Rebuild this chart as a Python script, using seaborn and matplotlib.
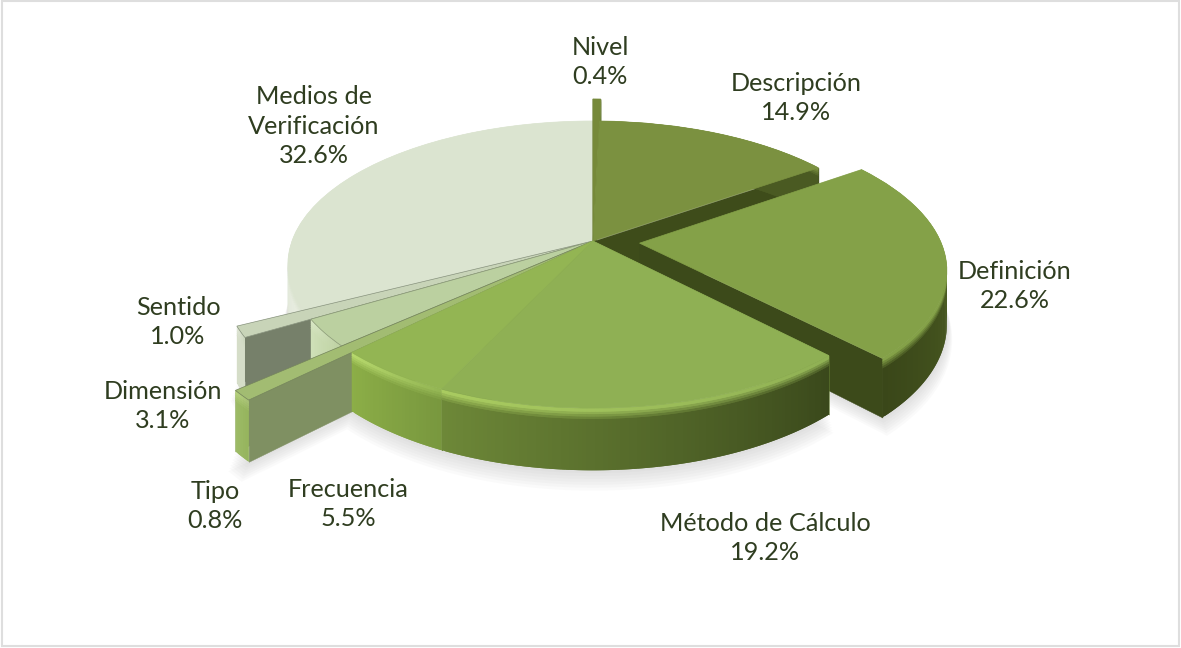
import matplotlib
matplotlib.use('Agg')
import matplotlib.pyplot as plt
import numpy as np
import seaborn as sns
from matplotlib.collections import PolyCollection
from matplotlib.patches import Rectangle
from matplotlib.transforms import Transform

names = ['Nivel', 'Descripción', 'Definición', 'Método de Cálculo', 'Frecuencia',
         'Tipo', 'Dimensión', 'Sentido', 'Medios de\nVerificación']
shares = [0.4, 14.9, 22.6, 19.2, 5.5, 0.8, 3.1, 1.0, 32.6]

# styling, same order as names
explode = [0, 0, 0.155, 0, 0, 0, 0, 0, 0]
radius = [1.22, 1, 1, 1, 1, 1.36, 1, 1.21, 1]
top_colors = ['#76893a', '#7b9140', '#84a148', '#8fb054', '#93b553',
              '#a2bc72', '#bbd0a0', '#c8d4b8', '#dbe4d0']
edge_colors = ['#76893a', '#7b9140', '#84a148', '#8fb054', '#93b553',
               '#75855c', '#8b9a78', '#8a9580', '#dbe4d0']
side_a = ['#6f8535', '#4a5a22', '#3a4719', '#6d8838', '#8cae47',
          '#9dbb66', '#cfe0b8', '#d5ddc8', '#ccd6c0']
side_b = ['#6f8535', '#4a5a22', '#5a6f2a', '#3a481b', '#78973e',
          '#94b35c', '#bed2a2', '#d5ddc8', '#e8ede0']
glow_colors = ['#76893a', '#7b9140', '#84a148', '#a9cb60', '#b6d86c',
               '#b5d07c', '#d8e6c4', '#e0e6d6', '#eef2e8']
face_colors = ['#66793a', '#3e4c1a', '#3c4a1a', '#5f7730', '#7a9740',
               '#7f9062', '#b5c79c', '#76806a', '#c5cfb8']
draw_order = [8, 0, 1, 7, 2, 6, 5, 4, 3]
label_xy = [(600, 62), (796, 98), (1015, 286), (765, 538), (348, 504),
            (215, 506), (163, 406), (178, 322), (314, 126)]

CX, CY, RX, RY, K, DEPTH = 593, 241, 301, 139.7, 0.164, 52


def project(u, v, z=0):
    w = 1 / (1 + K * np.asarray(v))
    return CX + RX * np.asarray(u) * w, CY - RY * np.asarray(v) * w + z * w


class PlaneTransform(Transform):
    input_dims = 2
    output_dims = 2
    is_separable = False
    has_inverse = False

    def transform_non_affine(self, values):
        x, y = project(values[:, 0], values[:, 1])
        return np.column_stack([x, y])


sns.set_theme(style='white')
plt.rcParams['font.family'] = ['Lato', 'DejaVu Sans']

fig = plt.figure(figsize=(11.81, 6.48), dpi=100)
ax = fig.add_axes([0, 0, 1, 1])
wedges, _ = ax.pie(shares, startangle=90, counterclock=False, explode=explode,
                   colors=top_colors, normalize=True)
ax.set_aspect('auto')
ax.set_xlim(0, 1181)
ax.set_ylim(648, 0)
ax.set_axis_off()
plane = PlaneTransform() + ax.transData


def arc(wedge, r, n):
    t = np.radians(np.linspace(wedge.theta1, wedge.theta2, n))
    return wedge.center[0] + r * np.cos(t), wedge.center[1] + r * np.sin(t)


def band(u0, v0, u1, v1, z0, z1):
    x0, y0 = project(u0, v0, z0)
    x1, y1 = project(u1, v1, z0)
    x2, y2 = project(u1, v1, z1)
    x3, y3 = project(u0, v0, z1)
    return [[(x0, y0), (x1, y1), (x2, y2), (x3, y3)]]


# soft shadow under the pie
for wedge, r in zip(wedges, radius):
    wedge.set_radius(r)
for step in range(2, 16, 2):
    for wedge in wedges:
        u, v = arc(wedge, wedge.r * (1 + step * 0.0012), 60)
        u = np.r_[wedge.center[0], u]
        v = np.r_[wedge.center[1], v]
        x, y = project(u, v, DEPTH + step)
        ax.fill(x, y, color='#808080', alpha=0.035, lw=0, zorder=1)

for rank, i in enumerate(draw_order):
    wedge = wedges[i]
    base = 10 + rank * 10
    cu, cv = wedge.center

    # the two straight cut faces
    for theta in (wedge.theta1, wedge.theta2):
        ou = cu + wedge.r * np.cos(np.radians(theta))
        ov = cv + wedge.r * np.sin(np.radians(theta))
        ax.add_collection(PolyCollection(band(cu, cv, ou, ov, 0, DEPTH),
                                         facecolors=face_colors[i], edgecolors=face_colors[i],
                                         linewidths=0.3, zorder=base))

    # outer rim, pieces overlap the next one so no seams show between them
    n = max(6, int((wedge.theta2 - wedge.theta1) * 1.5))
    u, v = arc(wedge, wedge.r, n)
    shades = sns.blend_palette([side_a[i], side_b[i]], n)
    glows = sns.blend_palette([glow_colors[i], top_colors[i]], n)
    bands = [(0, 3), (2, 5), (4, 7), (6, 9), (8, DEPTH)]
    for s, (z0, z1) in enumerate(bands[::-1]):
        polys, cols = [], []
        for j in range(n - 1):
            k = min(j + 2, n - 1)
            polys += band(u[j], v[j], u[k], v[k], z0, z1)
            mix = sns.blend_palette([glows[j], shades[j]], len(bands))
            cols.append(mix[len(bands) - 1 - s])
        ax.add_collection(PolyCollection(polys, facecolors=cols, linewidths=0, zorder=base + 1))

    wedge.set_transform(plane)
    wedge.set_zorder(base + 2)
    wedge.set_edgecolor(edge_colors[i])
    wedge.set_linewidth(0.5)
    wedge.set_clip_on(False)

for name, share, (lx, ly) in zip(names, shares, label_xy):
    ax.text(lx, ly, f'{name}\n{share}%', ha='center', va='center', fontsize=18.2,
            color='#2f3d20', linespacing=1.36, zorder=200)

ax.add_patch(Rectangle((2, 1), 1177, 645, fill=False, edgecolor='#dedede', lw=1.5, zorder=201))

fig.savefig('out.png', dpi=100, facecolor='white')
